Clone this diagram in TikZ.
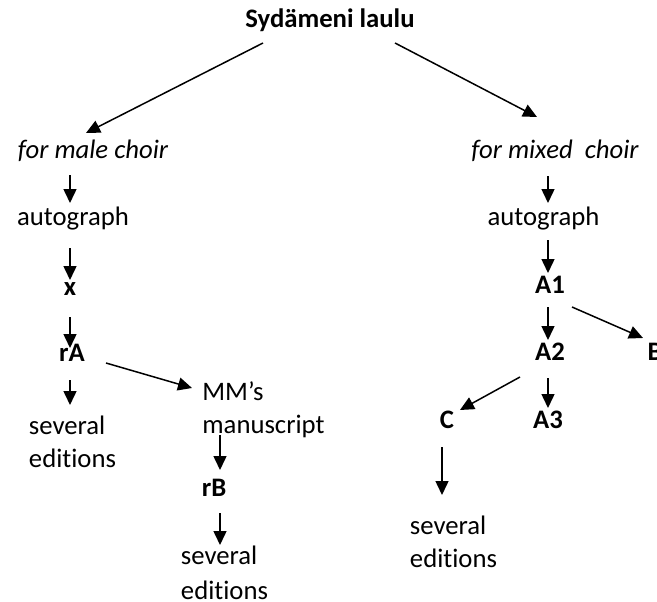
\documentclass[tikz,border=0pt]{standalone}
\usepackage{fontspec}
\setmainfont[Ligatures=NoCommon]{Carlito}
\usetikzlibrary{arrows.meta,calc}
\begin{document}
\begin{tikzpicture}[x=1pt,y=-1pt,
  every node/.style={inner sep=0pt,outer sep=0pt,font=\fontsize{26.7}{33}\selectfont},
  one/.style={text height=0.85em,text depth=0.1em},
  bf/.style={one,font=\fontsize{26.7}{33}\selectfont\bfseries},
  it/.style={one,font=\fontsize{26.7}{33}\selectfont\itshape},
  two/.style={align=left},
  arr/.style={line width=1.5pt,-{Triangle[length=14pt,width=13pt]}}]
\useasboundingbox (0,0) rectangle (657,602);
\node[bf] (title) at (330,24) {Sydämeni laulu};
\node[it] (male) at (93,155) {for male choir};
\node[it] (mixed) at (555,155) {for mixed\ \ choir};
\node[one] (autoL) at (73,222) {autograph};
\node[bf] (x) at (70,292) {x};
\node[bf] (rA) at (72,358) {rA};
\node[two] (sevL) at (72.5,441.5) {several\\editions};
\node[two] (MM) at (263.5,410) {MM’s\\manuscript};
\node[bf] (rB) at (214,493) {rB};
\node[two] (sevM) at (224.5,573) {several\\[2pt]editions};
\node[one] (autoR) at (543.5,222) {autograph};
\node[bf] (A1) at (550,290) {A1};
\node[bf] (B) at (655,357) {B};
\node[bf] (A2) at (550,357) {A2};
\node[bf] (C) at (447,425) {C};
\node[bf] (A3) at (548,425) {A3};
\node[two] (sevR) at (453.5,541.5) {several\\editions};
\draw[arr] ($(title)+(-67,19)$) -- ($(male)+(-7,-22)$);
\draw[arr] ($(title)+(65,19)$) -- ($(mixed)+(-18,-38)$);
\draw[arr] ($(male)+(-23,20)$) -- ($(autoL)+(-3,-19)$);
\draw[arr] ($(autoL)+(-3,26)$) -- ($(x)+(0,-12)$);
\draw[arr] ($(x)+(0,25)$) -- ($(rA)+(-2,-10)$);
\draw[arr] ($(rA)+(-2,22)$) -- ($(sevL)+(-2.5,-36.5)$);
\draw[arr] ($(rA)+(34,5)$) -- ($(MM)+(-71.5,-22)$);
\draw[arr] ($(MM)+(-43.5,25)$) -- ($(rB)+(6,-23)$);
\draw[arr] ($(rB)+(6,20)$) -- ($(sevM)+(-4.5,-28)$);
\draw[arr] ($(mixed)+(-7,21)$) -- ($(autoR)+(4.5,-19)$);
\draw[arr] ($(autoR)+(4.5,18)$) -- ($(A1)+(-2,-17)$);
\draw[arr] ($(A1)+(-2,17)$) -- ($(A2)+(-2,-17)$);
\draw[arr] ($(A1)+(22,17)$) -- ($(B)+(-12,-19)$);
\draw[arr] ($(A2)+(-2,21)$) -- ($(A3)+(0,-17)$);
\draw[arr] ($(A2)+(-30,20)$) -- ($(C)+(13,-15)$);
\draw[arr] ($(C)+(-5,22)$) -- ($(sevR)+(-11.5,-46.5)$);
\end{tikzpicture}
\end{document}
